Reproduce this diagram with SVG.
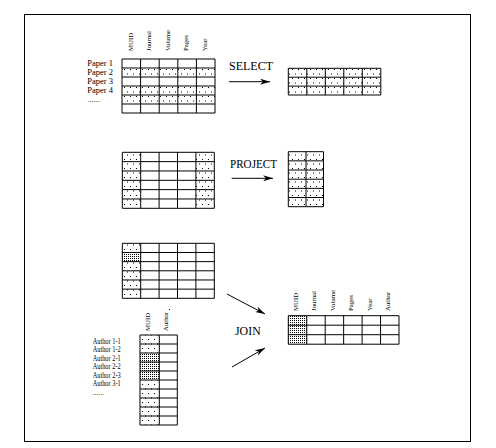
<svg xmlns="http://www.w3.org/2000/svg" width="496" height="448" viewBox="0 0 496 448">
<style>
text{font-family:"Liberation Serif",serif;fill:#000}
.hd{font-size:6.8px}
.lb{font-size:8.5px}
.al{font-size:7.5px}
.op{font-size:11.5px}
.grid{fill:none;stroke:#000;stroke-width:1}
.con{fill:none;stroke:#000;stroke-width:1;marker-end:url(#ah)}
</style>
<defs>
<pattern id="dots" patternUnits="userSpaceOnUse" width="6" height="9">
<rect x="1" y="1.5" width="1" height="1" fill="#000"/>
<rect x="4" y="6" width="1" height="1" fill="#000"/>
</pattern>
<pattern id="dense" patternUnits="userSpaceOnUse" width="2" height="2">
<rect x="0" y="0" width="1" height="1" fill="#000"/>
</pattern>
<marker id="ah" markerUnits="userSpaceOnUse" viewBox="0 0 10 6" refX="10" refY="3" markerWidth="10" markerHeight="6" orient="auto">
<path d="M0,0 L10,3 L0,6 L3,3 z" fill="#000"/>
</marker>
</defs>
<rect x="0" y="0" width="496" height="448" fill="#fff"/>
<rect x="24.5" y="14.5" width="446" height="427" class="grid"/>

<g id="paper-table">
<rect x="122" y="68" width="93" height="9" fill="url(#dots)"/>
<rect x="122" y="86" width="93" height="18" fill="url(#dots)"/>
<path class="grid" d="M122,59H215V113H122Z M140.6,59V113 M159.2,59V113 M177.8,59V113 M196.4,59V113 M122,68H215 M122,77H215 M122,86H215 M122,95H215 M122,104H215"/>
<text class="hd" transform="translate(132.5,51) rotate(-90)">MUID</text>
<text class="hd" transform="translate(151,51) rotate(-90)">Journal</text>
<text class="hd" transform="translate(169.5,51) rotate(-90)">Volume</text>
<text class="hd" transform="translate(188,51) rotate(-90)">Pages</text>
<text class="hd" transform="translate(206.5,51) rotate(-90)">Year</text>
<text class="lb" x="87.3" y="66.3">Paper 1</text>
<text class="lb" x="87.3" y="75.3">Paper 2</text>
<text class="lb" x="87.3" y="84.3">Paper 3</text>
<text class="lb" x="87.3" y="93.3">Paper 4</text>
<text class="lb" x="87.3" y="102">......</text>
</g>

<g id="select-result">
<rect x="288.3" y="68.3" width="92.5" height="26.7" fill="url(#dots)"/>
<path class="grid" d="M288.3,68.3H380.8V95H288.3Z M306.8,68.3V95 M325.3,68.3V95 M343.8,68.3V95 M362.3,68.3V95 M288.3,77.2H380.8 M288.3,86.1H380.8"/>
</g>

<g id="project-table">
<rect x="122.3" y="152.3" width="18.4" height="56" fill="url(#dots)"/>
<rect x="195.9" y="152.3" width="18.4" height="56" fill="url(#dots)"/>
<path class="grid" d="M122.3,152.3H214.3V208.3H122.3Z M140.7,152.3V208.3 M159.1,152.3V208.3 M177.5,152.3V208.3 M195.9,152.3V208.3 M122.3,161.63H214.3 M122.3,170.97H214.3 M122.3,180.3H214.3 M122.3,189.63H214.3 M122.3,198.97H214.3"/>
</g>

<g id="project-result">
<rect x="288.3" y="151.7" width="35.2" height="55" fill="url(#dots)"/>
<path class="grid" d="M288.3,151.7H323.5V206.7H288.3Z M306,151.7V206.7 M288.3,160.87H323.5 M288.3,170.03H323.5 M288.3,179.2H323.5 M288.3,188.37H323.5 M288.3,197.53H323.5"/>
</g>

<g id="join-paper-table">
<rect x="122.3" y="243.3" width="18.4" height="9.17" fill="url(#dots)"/>
<rect x="122.3" y="252.47" width="18.4" height="9.16" fill="url(#dense)"/>
<rect x="122.3" y="261.63" width="18.4" height="36.67" fill="url(#dots)"/>
<path class="grid" d="M122.3,243.3H214.3V298.3H122.3Z M140.7,243.3V298.3 M159.1,243.3V298.3 M177.5,243.3V298.3 M195.9,243.3V298.3 M122.3,252.47H214.3 M122.3,261.63H214.3 M122.3,270.8H214.3 M122.3,279.97H214.3 M122.3,289.13H214.3"/>
<rect x="169" y="309" width="1" height="1" fill="#000"/>
</g>

<g id="author-table">
<rect x="140" y="335" width="19.3" height="18" fill="url(#dots)"/>
<rect x="140" y="353" width="19.3" height="27" fill="url(#dense)"/>
<rect x="140" y="380" width="19.3" height="45" fill="url(#dots)"/>
<path class="grid" d="M140,335H177.3V425H140Z M159.3,335V425 M140,344H177.3 M140,353H177.3 M140,362H177.3 M140,371H177.3 M140,380H177.3 M140,389H177.3 M140,398H177.3 M140,407H177.3 M140,416H177.3"/>
<text class="hd" transform="translate(149.5,331) rotate(-90)">MUID</text>
<text class="hd" transform="translate(168,331) rotate(-90)">Author</text>
<text class="al" x="92.7" y="343.5" textLength="28" lengthAdjust="spacingAndGlyphs">Author 1-1</text>
<text class="al" x="92.7" y="352" textLength="28" lengthAdjust="spacingAndGlyphs">Author 1-2</text>
<text class="al" x="92.7" y="360.5" textLength="28" lengthAdjust="spacingAndGlyphs">Author 2-1</text>
<text class="al" x="92.7" y="369" textLength="28" lengthAdjust="spacingAndGlyphs">Author 2-2</text>
<text class="al" x="92.7" y="377.5" textLength="28" lengthAdjust="spacingAndGlyphs">Author 2-3</text>
<text class="al" x="92.7" y="386" textLength="28" lengthAdjust="spacingAndGlyphs">Author 3-1</text>
<text class="al" x="92.7" y="394.5">......</text>
</g>

<g id="join-result">
<rect x="288.3" y="315.7" width="18.45" height="28.5" fill="url(#dense)"/>
<path class="grid" d="M288.3,315.7H399V344.2H288.3Z M306.75,315.7V344.2 M325.2,315.7V344.2 M343.65,315.7V344.2 M362.1,315.7V344.2 M380.55,315.7V344.2 M288.3,325.2H399 M288.3,334.7H399"/>
<text class="hd" transform="translate(297.5,311) rotate(-90)">MUID</text>
<text class="hd" transform="translate(316,311) rotate(-90)">Journal</text>
<text class="hd" transform="translate(334.5,311) rotate(-90)">Volume</text>
<text class="hd" transform="translate(353,311) rotate(-90)">Pages</text>
<text class="hd" transform="translate(371.5,311) rotate(-90)">Year</text>
<text class="hd" transform="translate(390,311) rotate(-90)">Author</text>
</g>

<g id="connectors">
<text class="op" x="229" y="70" textLength="44" lengthAdjust="spacingAndGlyphs">SELECT</text>
<line class="con" x1="229" y1="81.7" x2="270" y2="81.7"/>
<text class="op" x="230" y="168.3" textLength="47" lengthAdjust="spacingAndGlyphs">PROJECT</text>
<line class="con" x1="231.7" y1="178.3" x2="273" y2="178.3"/>
<text class="op" x="235" y="335" textLength="25.7" lengthAdjust="spacingAndGlyphs">JOIN</text>
<line class="con" x1="227" y1="294" x2="265" y2="314"/>
<line class="con" x1="232" y1="367" x2="265" y2="348"/>
</g>
</svg>
